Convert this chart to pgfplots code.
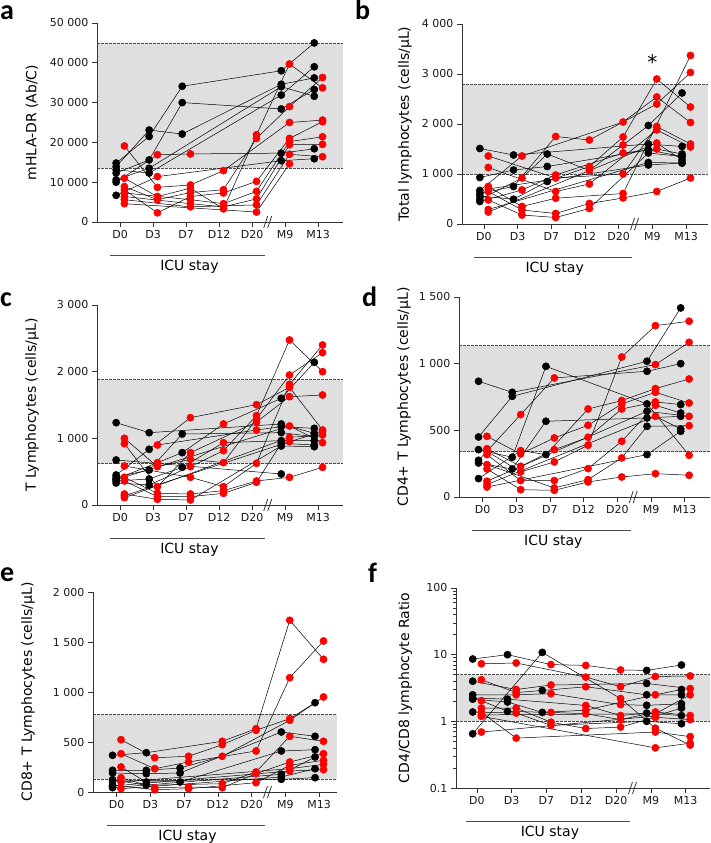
\documentclass[border=0pt]{standalone}
\usepackage{fontspec}
\setmainfont{DejaVu Sans}
\newfontfamily\lettfont{Carlito}
\usepackage{pgfplots}
\pgfplotsset{compat=1.18}

\pgfplotsset{
  panel/.style={scale only axis, width=246pt, height=200pt, xmin=-0.7, xmax=6.75, ymin=0,
    axis lines*=left, axis line style={black!80, line width=0.7pt, -},
    xtick={0,...,6}, xticklabels={D0,D3,D7,D12,D20,M9,M13},
    scaled y ticks=false,
    tick align=outside, major tick length=5pt, minor tick length=3pt,
    tick style={black!80, line width=0.7pt},
    tick label style={font=\fontsize{11}{13}\selectfont, text=black!90},
    ylabel style={font=\fontsize{14}{16}\selectfont},
    clip=false, set layers, axis on top, mark layer=axis foreground, anchor=south west},
  ylab/.style={ylabel style={at={(axis description cs:#1,0.5)}, anchor=center}},
  pat/.style={black, line width=0.5pt, mark=*, scatter, scatter src=explicit symbolic,
    mark size=3.6pt, scatter/classes={0={mark=*,black},1={mark=*,red}}},
}
% one patient: rows "t value class" (class 0 = black, 1 = red)
\newcommand\pp[1]{\addplot[pat] table[x expr=\thisrow{t}-0.12+0.25*\thisrow{c}, y=v, meta=c, row sep=\\]{t v c\\#1};}
% reference range: xmin xmax low high
\newcommand\band[4]{%
  \addplot[draw=none, fill=gray!25, forget plot] coordinates {(#1,#3) (#2,#3) (#2,#4) (#1,#4)} -- cycle;
  \addplot[black!70, line width=0.6pt, dash pattern=on 2.5pt off 1.5pt, forget plot] coordinates {(#1,#3) (#2,#3)};
  \addplot[black!70, line width=0.6pt, dash pattern=on 2.5pt off 1.5pt, forget plot] coordinates {(#1,#4) (#2,#4)};}
\newcommand\extras[1]{%
  \draw[black!80, line width=0.8pt] ([xshift=-5pt,yshift=-6pt]axis cs:4.5,#1) -- ([xshift=-1pt,yshift=6pt]axis cs:4.5,#1);
  \draw[black!80, line width=0.8pt] ([xshift=-1pt,yshift=-6pt]axis cs:4.5,#1) -- ([xshift=3pt,yshift=6pt]axis cs:4.5,#1);
  \draw[black!70, line width=0.7pt] ([yshift=-33pt]axis cs:-0.3,#1) -- ([yshift=-33pt]axis cs:4.4,#1);
  \node[font=\fontsize{14}{16}\selectfont] at ([yshift=-45pt]axis cs:2.1,#1) {ICU stay};}

\begin{document}
\begin{tikzpicture}
\tikzset{lett/.style={anchor=base west, inner sep=0pt, font=\lettfont\bfseries\fontsize{28}{30}\selectfont}}
\node[lett] at (0pt,823pt) {a};
\node[lett] at (355pt,823pt) {b};
\node[lett] at (0pt,536pt) {c};
\node[lett] at (362pt,536pt) {d};
\node[lett] at (0pt,261pt) {e};
\node[lett] at (368pt,260pt) {f};

% a
\begin{axis}[panel, at={(97pt,621pt)}, height=199pt, ymax=50000,
  ytick={0,10000,20000,30000,40000,50000},
  yticklabels={0,10 000,20 000,30 000,40 000,50 000},
  ylabel={mHLA-DR (Ab/C)}, ylab=-0.264]
\band{-0.7}{6.75}{13500}{45000}
\pp{0 14800 0\\1 21500 0\\2 34100 0\\5 38000 0\\6 45000 0\\}
\pp{0 12300 0\\1 15600 0\\2 30000 0\\5 28400 0\\6 33300 0\\}
\pp{0 13900 0\\1 23100 0\\2 22100 0\\5 34600 0\\6 36200 0\\}
\pp{0 10600 0\\1 13500 0\\5 34000 0\\6 31600 0\\}
\pp{0 13100 0\\1 12300 0\\5 31900 0\\6 39000 0\\}
\pp{0 10000 0\\1 16900 1\\2 17100 1\\5 17300 0\\6 18400 0\\}
\pp{0 6700 0\\1 11400 1\\5 15400 0\\6 15900 0\\}
\pp{0 19100 1\\1 8700 1\\2 9300 1\\3 12900 1\\5 25000 1\\6 25600 1\\}
\pp{0 11000 1\\1 6400 1\\2 8500 1\\3 3300 1\\4 21900 1\\5 39700 1\\6 33700 1\\}
\pp{0 8900 1\\1 5600 1\\2 7400 1\\3 8100 1\\4 21000 1\\5 29000 1\\6 36300 1\\}
\pp{0 8100 1\\1 2300 1\\2 6400 1\\3 7300 1\\4 10200 1\\5 21000 1\\6 25200 1\\}
\pp{0 7300 1\\2 5600 1\\3 4600 1\\4 7700 1\\5 20200 1\\6 21400 1\\}
\pp{0 6400 1\\2 4600 1\\3 3800 1\\4 5800 1\\5 19400 1\\6 19500 1\\}
\pp{0 5600 1\\2 3800 1\\4 4300 1\\5 17000 1\\6 16400 1\\}
\pp{0 4600 1\\4 2500 1\\5 14600 1\\}
\extras{0}
\end{axis}

% b
\begin{axis}[panel, at={(462pt,619pt)}, xmin=-0.65, xmax=6.65, ymax=4000,
  ytick={0,1000,2000,3000,4000},
  yticklabels={0,1 000,2 000,3 000,4 000},
  ylabel={Total lymphocytes (cells/µL)}, ylab=-0.232]
\band{-0.65}{6.65}{1000}{2800}
\pp{0 1510 0\\1 1380 0\\5 1600 0\\6 1550 0\\}
\pp{0 930 0\\1 1080 0\\2 1150 0\\5 1480 0\\6 1350 0\\}
\pp{0 670 0\\1 1360 1\\4 2040 1\\5 2540 1\\6 2030 1\\}
\pp{0 610 0\\1 750 0\\2 1750 1\\3 1680 1\\5 2400 1\\6 3030 1\\}
\pp{0 560 0\\1 495 0\\2 850 0\\3 1150 1\\4 1740 1\\5 2900 1\\6 2340 1\\}
\pp{0 490 0\\1 920 1\\2 1400 0\\3 1070 1\\4 1580 1\\5 1970 0\\6 2620 0\\}
\pp{0 450 0\\1 680 1\\2 980 1\\4 1420 1\\5 1500 1\\6 1400 0\\}
\pp{0 1360 1\\2 920 1\\4 1000 1\\5 1950 1\\6 1600 1\\}
\pp{0 1130 1\\2 650 1\\3 800 1\\5 1880 1\\6 1540 1\\}
\pp{0 750 1\\1 350 1\\2 515 1\\4 610 1\\6 3370 1\\}
\pp{0 650 1\\1 280 1\\2 210 1\\3 410 1\\4 520 1\\5 650 1\\6 920 1\\}
\pp{0 480 1\\1 180 1\\2 130 1\\3 310 1\\5 1420 0\\6 1350 0\\}
\pp{0 290 1\\5 1230 0\\6 1220 0\\}
\pp{0 240 1\\5 1620 1\\6 1280 0\\}
\pp{0 700 1\\5 1180 0\\6 1220 0\\}
\extras{0}
\node[font=\fontsize{20}{20}\selectfont] at ([yshift=-4pt]axis cs:5,3320) {*};
\end{axis}

% c
\begin{axis}[panel, at={(97pt,338pt)}, ymax=3000,
  ytick={0,1000,2000,3000},
  yticklabels={0,1 000,2 000,3 000},
  ylabel={T Lymphocytes (cells/µL)}, ylab=-0.264]
\band{-0.7}{6.75}{620}{1880}
\pp{0 1235 0\\1 1085 0\\5 1215 0\\6 1075 0\\}
\pp{0 675 0\\5 465 0\\}
\pp{0 450 0\\1 835 0\\2 1310 1\\4 1505 1\\5 1765 1\\6 1125 1\\}
\pp{0 420 0\\1 525 0\\2 1065 0\\5 1085 0\\6 1025 0\\}
\pp{0 390 0\\1 635 1\\2 785 0\\3 1215 1\\5 1600 0\\6 2140 0\\}
\pp{0 360 0\\1 390 0\\2 565 0\\3 935 1\\5 965 0\\6 965 0\\}
\pp{0 330 0\\1 300 0\\2 575 1\\3 815 1\\4 1340 1\\5 2475 1\\6 2000 1\\}
\pp{0 1000 1\\1 575 1\\2 685 1\\3 635 1\\4 1290 1\\5 1950 1\\6 2285 1\\}
\pp{0 920 1\\1 275 1\\2 785 1\\4 1245 1\\5 1625 1\\6 1650 1\\}
\pp{0 585 1\\2 415 1\\3 275 1\\4 625 1\\5 1810 1\\6 2400 1\\}
\pp{0 415 1\\1 175 1\\2 165 1\\3 215 1\\4 360 1\\5 415 1\\6 565 1\\}
\pp{0 360 1\\1 125 1\\2 125 1\\3 175 1\\4 340 1\\5 925 0\\6 900 0\\}
\pp{0 165 1\\1 85 1\\2 75 1\\5 885 0\\6 875 0\\}
\pp{0 110 1\\5 1015 1\\6 1050 1\\}
\pp{0 380 0\\5 1185 1\\6 935 1\\}
\pp{1 900 1\\4 1125 1\\5 1175 0\\6 1150 0\\}
\pp{0 140 1\\5 950 1\\6 1100 1\\}
\extras{0}
\end{axis}

% d
\begin{axis}[panel, at={(459pt,346pt)}, width=251pt, ymax=1500,
  ytick={0,500,1000,1500},
  yticklabels={0,500,1 000,1 500},
  ylabel={CD4+ T Lymphocytes (cells/µL)}, ylab=-0.219]
\band{-0.7}{6.75}{340}{1135}
\pp{0 868 0\\1 785 0\\5 993 1\\6 1160 1\\}
\pp{0 450 0\\1 755 0\\5 1018 0\\6 1418 0\\}
\pp{0 355 0\\1 298 0\\2 980 0\\5 698 0\\6 313 1\\}
\pp{0 275 0\\1 618 1\\2 893 1\\5 943 0\\6 1000 0\\}
\pp{0 255 0\\1 210 0\\2 568 0\\5 593 0\\6 605 0\\}
\pp{0 138 0\\1 348 1\\2 318 0\\3 660 1\\4 723 1\\5 813 1\\6 885 1\\}
\pp{0 455 1\\1 323 1\\2 443 1\\3 538 1\\4 698 1\\5 785 1\\6 705 1\\}
\pp{0 362 1\\1 230 1\\2 355 1\\3 448 1\\4 660 1\\5 713 1\\6 693 0\\}
\pp{0 343 1\\1 188 1\\2 263 1\\3 388 1\\4 1050 1\\5 1285 1\\6 1318 1\\}
\pp{0 318 1\\1 123 1\\2 123 1\\3 213 1\\4 418 1\\5 688 1\\6 630 0\\}
\pp{0 243 1\\2 68 1\\3 130 1\\4 293 1\\5 530 0\\6 535 1\\}
\pp{0 210 1\\1 55 1\\2 50 1\\3 113 1\\4 150 1\\5 175 1\\6 163 1\\}
\pp{0 118 1\\5 643 0\\6 605 1\\}
\pp{0 93 1\\5 605 1\\6 510 0\\}
\pp{0 75 1\\5 318 0\\6 493 0\\}
\extras{0}
\end{axis}

% e
\begin{axis}[panel, at={(93pt,51pt)}, width=244pt, xmax=6.53, ymax=2000,
  ytick={0,500,1000,1500,2000},
  yticklabels={0,500,1 000,1 500,2 000},
  ylabel={CD8+ T Lymphocytes (cells/µL)}, ylab=-0.266]
\band{-0.7}{6.53}{125}{775}
\pp{0 367 0\\1 393 0\\3 507 1\\4 633 1\\5 1717 1\\6 1327 1\\}
\pp{0 523 1\\1 343 1\\2 357 1\\3 473 1\\4 617 1\\5 733 1\\6 893 0\\}
\pp{0 383 1\\1 233 1\\2 300 1\\4 410 1\\5 1143 1\\6 1510 1\\}
\pp{0 217 0\\1 217 0\\2 240 0\\3 357 1\\5 717 1\\6 950 1\\}
\pp{0 190 0\\1 183 0\\2 190 0\\5 600 0\\6 557 0\\}
\pp{0 250 1\\1 100 0\\2 100 0\\5 410 0\\6 423 0\\}
\pp{0 123 0\\1 67 0\\3 83 1\\4 200 1\\5 557 1\\6 507 1\\}
\pp{0 143 1\\1 43 1\\2 50 1\\3 43 1\\4 183 1\\5 300 1\\6 383 1\\}
\pp{0 67 0\\1 23 1\\2 33 1\\4 93 1\\5 267 1\\6 317 1\\}
\pp{0 100 1\\5 233 1\\6 277 1\\}
\pp{0 43 0\\5 177 0\\6 350 0\\}
\pp{0 33 1\\5 150 0\\6 233 0\\}
\pp{0 60 0\\5 210 1\\6 223 1\\}
\pp{0 110 0\\5 127 0\\6 143 0\\}
\extras{0}
\end{axis}

% f
\begin{axis}[panel, at={(456pt,55pt)}, width=254pt, xmin=-0.6, xmax=6.7,
  ymode=log, ymin=0.1, ymax=100,
  ytick={0.1,1,10,100}, yticklabels={0.1,1,10,100},
  minor ytick={0.2,0.3,0.4,0.5,0.6,0.7,0.8,0.9,2,3,4,5,6,7,8,9,20,30,40,50,60,70,80,90},
  ylabel={CD4/CD8 lymphocyte Ratio}, ylab=-0.2]
\band{-0.6}{6.7}{1}{5}
\pp{0 8.6 0\\1 10 0\\2 7.1 1\\3 6.9 1\\4 5.9 1\\5 5.8 0\\6 7.0 0\\}
\pp{0 7.3 1\\1 7.5 1\\3 4.6 1\\4 3.3 1\\5 4.7 1\\6 4.8 1\\}
\pp{0 0.65 0\\2 10.8 0\\4 2.2 1\\5 0.79 1\\6 0.44 1\\}
\pp{0 4.0 0\\1 3.0 1\\2 3.5 1\\5 3.7 0\\6 3.1 1\\}
\pp{0 4.2 1\\1 2.7 1\\2 2.9 0\\3 3.3 1\\5 2.5 0\\6 2.5 0\\}
\pp{0 2.5 0\\1 2.5 1\\2 2.6 1\\4 1.78 1\\5 1.74 0\\6 1.83 0\\}
\pp{0 2.24 0\\1 2.15 0\\3 1.73 1\\4 1.22 1\\5 1.33 0\\6 1.22 0\\}
\pp{0 2.15 0\\1 1.95 0\\2 1.36 0\\3 1.47 1\\5 2.5 1\\6 3.0 0\\}
\pp{0 2.04 1\\1 1.41 0\\2 1.36 1\\3 1.3 1\\4 1.06 1\\5 1.38 1\\6 1.22 1\\}
\pp{0 1.58 1\\1 1.58 1\\2 0.97 1\\3 0.78 1\\4 0.82 1\\5 1.15 1\\6 1.06 1\\}
\pp{0 1.38 0\\1 1.33 1\\2 0.87 1\\5 1.0 0\\6 0.92 0\\}
\pp{0 1.36 1\\1 0.56 1\\5 0.69 1\\6 0.59 1\\}
\pp{0 1.19 1\\5 0.4 1\\6 0.47 1\\}
\pp{0 0.69 1\\5 1.2 1\\6 1.58 0\\}
\pp{0 1.25 1\\5 1.3 1\\6 2.5 1\\}
\extras{0.1}
\end{axis}
\pgfresetboundingbox
\path (0pt,0pt) rectangle (710pt,843pt);
\end{tikzpicture}
\end{document}
